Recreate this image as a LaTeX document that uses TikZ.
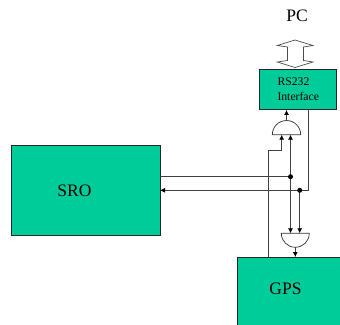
\documentclass[tikz,border=0pt]{standalone}
\usepackage{fontspec}
\setmainfont{Liberation Serif}
\usetikzlibrary{arrows.meta}
\definecolor{boxgreen}{RGB}{0,204,153}
\tikzset{
  greenbox/.style={draw=black!85,line width=0.9pt,fill=boxgreen,inner sep=0pt,anchor=north west},
  wire/.style={draw=black!75,line width=0.8pt},
  arrowwire/.style={wire,-{Latex[length=5pt,width=5pt,black]}},
  gate/.style={draw=black!80,line width=0.7pt,fill=white},
  junction/.style={circle,fill=black,inner sep=0pt,minimum size=5pt},
  biglabel/.style={font=\fontsize{17.5}{20}\selectfont,inner sep=0pt},
  smalllabel/.style={font=\fontsize{11.7}{15}\selectfont,inner sep=0pt,align=left}
}
\begin{document}
\begin{tikzpicture}[x=1pt,y=-1pt]
\useasboundingbox (0,0) rectangle (340,324);
\begin{scope}
\clip (0,0) rectangle (340,324);
\node[greenbox,minimum width=149pt,minimum height=90pt] (sro) at (11,145) {};
\node[biglabel] (srot) at (74.5,191) {SRO};
\node[greenbox,minimum width=77pt,minimum height=40pt] (rs) at (259,69) {};
\node[smalllabel,anchor=west] (rst) at (277.3,89) {RS232\\Interface};
\node[greenbox,minimum width=110pt,minimum height=75pt] (gps) at (236.5,257) {};
\node[biglabel] (gpst) at (285.5,289) {GPS};
\node[biglabel] (pc) at (297,16) {PC};
% double arrow
\draw[gate,draw=black!70] (295,40) -- (313,45.5) -- (303.5,47) -- (303.5,60.5) -- (313,62) -- (295,67.5) -- (277.3,62) -- (287.5,60.5) -- (287.5,47) -- (277.3,45.5) -- cycle;
% gates
\draw[gate] (272.3,134.7) arc[start angle=180,end angle=360,radius=14.2] -- cycle;
\coordinate (g1top) at (286.5,120.5);
\coordinate (g1a) at (281.7,134.7);
\coordinate (g1b) at (290.5,134.7);
\draw[gate] (281.3,233.3) arc[start angle=180,end angle=0,radius=14] -- cycle;
\coordinate (g2bot) at (295.3,247.3);
\coordinate (g2a) at (290.5,233.3);
\coordinate (g2b) at (299.7,233.3);
% wires
\coordinate (j1) at (290.5,176.7);
\coordinate (j2) at (299.7,190.3);
\draw[arrowwire] (g1top) -- (g1top |- rs.south);
\draw[arrowwire] (g2bot) -- (g2bot |- gps.north);
\draw[arrowwire] (268,257) -- (268,150) -- (281.7,150) -- (g1a);
\draw[wire] (160,176.7) -- (j1);
\draw[arrowwire] (308.7,109) -- (308.7,190.3) -- (160,190.3);
\draw[arrowwire] (j1) -- (g1b);
\draw[arrowwire] (j1) -- (g2a);
\draw[arrowwire] (j2) -- (g2b);
\node[junction] (d1) at (j1) {};
\node[junction] (d2) at (j2) {};
\end{scope}
\end{tikzpicture}
\end{document}
